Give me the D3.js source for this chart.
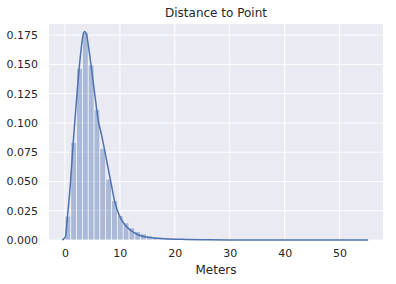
<!DOCTYPE html>
<html>
<head>
<meta charset="utf-8">
<script src="https://cdn.jsdelivr.net/npm/d3@7"></script>
<style>
  body { margin: 0; background: #fff; }
  svg text { font-family: "DejaVu Sans", sans-serif; fill: #262626; }
</style>
</head>
<body>
<svg id="chart" width="396" height="284"></svg>
<script>
// histogram (density), 50 bins starting at 0
const binStart = 0;
const binWidth = 1.06;
const binDensity = [
  0.0205, 0.0834, 0.1467, 0.1775, 0.1496, 0.1115, 0.0782, 0.052, 0.0338, 0.0208,
  0.0147, 0.0104, 0.0072, 0.0052, 0.0035, 0.0026, 0.0019, 0.0014, 0.001, 0.0008,
  0.0006, 0.0005, 0.0004, 0.0003, 0.0003, 0.0002, 0.0002, 0.0002, 0.0001, 0.0001,
  0.0001, 0.0001, 0.0001, 0.0001, 0.0001, 0.0001, 0.0001, 0.0001, 0.0001, 0.0001,
  0.0001, 0.0001, 0.0001, 0.0001, 0.0001, 0.0001, 0.0001, 0.0001, 0.0001, 0.0001
];

// kde curve
const kdeX = [-0.5, -0.2, 0.1, 0.5, 1.0, 1.5, 2.0, 2.5, 3.0, 3.4, 3.6, 3.9, 4.3, 5.0, 5.5, 6.0, 6.7, 7.3, 8.0, 8.5, 9.1, 10.0, 10.9, 12.1, 13.4, 15.2, 18.2, 22, 26, 30, 40, 55.2];
const kdeY = [0.0, 0.001, 0.003, 0.022, 0.048, 0.083, 0.113, 0.142, 0.165, 0.177, 0.178, 0.176, 0.165, 0.140, 0.122, 0.104, 0.089, 0.075, 0.058, 0.046, 0.032, 0.020, 0.013, 0.0078, 0.0043, 0.0023, 0.0011, 0.0005, 0.0002, 0.0001, 0.00003, 0.0];

const xTicks = [0, 10, 20, 30, 40, 50];
const yTicks = [0, 0.025, 0.05, 0.075, 0.1, 0.125, 0.15, 0.175];

const margin = { left: 49, right: 13, top: 24, bottom: 44 };
const W = 396, H = 284;

const svg = d3.select("#chart");

const x = d3.scaleLinear().domain([-2.9, 57.9]).range([margin.left, W - margin.right]);
const y = d3.scaleLinear().domain([0, 0.1845]).range([H - margin.bottom, margin.top]);

// panel
svg.append("rect")
  .attr("x", margin.left).attr("y", margin.top)
  .attr("width", W - margin.left - margin.right)
  .attr("height", H - margin.top - margin.bottom)
  .attr("fill", "#eaeaf2");

// grid
svg.append("g").selectAll("line").data(xTicks).join("line")
  .attr("x1", d => x(d)).attr("x2", d => x(d))
  .attr("y1", margin.top).attr("y2", H - margin.bottom)
  .attr("stroke", "#fff").attr("stroke-width", 1);
svg.append("g").selectAll("line").data(yTicks).join("line")
  .attr("x1", margin.left).attr("x2", W - margin.right)
  .attr("y1", d => y(d)).attr("y2", d => y(d))
  .attr("stroke", "#fff").attr("stroke-width", 1);

// bars
const bins = binDensity.map((v, i) => ({ x0: binStart + i * binWidth, x1: binStart + (i + 1) * binWidth, v }));
svg.append("g").selectAll("rect").data(bins).join("rect")
  .attr("x", d => x(d.x0))
  .attr("y", d => y(d.v))
  .attr("width", d => x(d.x1) - x(d.x0))
  .attr("height", d => y(0) - y(d.v))
  .attr("fill", "#4c72b0")
  .attr("stroke", "#fff")
  .attr("stroke-width", 0.8)
  .attr("opacity", 0.4);

// kde
const kde = kdeX.map((v, i) => [v, kdeY[i]]);
svg.append("path")
  .datum(kde)
  .attr("fill", "none")
  .attr("stroke", "#4c72b0")
  .attr("stroke-width", 1.5)
  .attr("d", d3.line().x(d => x(d[0])).y(d => y(d[1])).curve(d3.curveMonotoneX));

// axes (no tick marks, seaborn darkgrid)
const xAxis = svg.append("g")
  .attr("transform", `translate(0,${H - margin.bottom})`)
  .call(d3.axisBottom(x).tickValues(xTicks).tickSize(0).tickPadding(9).tickFormat(d3.format("d")));
const yAxis = svg.append("g")
  .attr("transform", `translate(${margin.left},0)`)
  .call(d3.axisLeft(y).tickValues(yTicks).tickSize(0).tickPadding(11).tickFormat(d3.format(".3f")));
[xAxis, yAxis].forEach(a => {
  a.select(".domain").remove();
  a.selectAll("text").style("font-size", "11px").style("font-family", "DejaVu Sans").attr("fill", "#262626");
});

svg.append("text")
  .attr("x", x((-2.9 + 57.9) / 2)).attr("y", 274)
  .attr("text-anchor", "middle")
  .style("font-size", "12px")
  .text("Meters");

svg.append("text")
  .attr("x", x((-2.9 + 57.9) / 2)).attr("y", 17)
  .attr("text-anchor", "middle")
  .style("font-size", "12px")
  .text("Distance to Point");
</script>
</body>
</html>
